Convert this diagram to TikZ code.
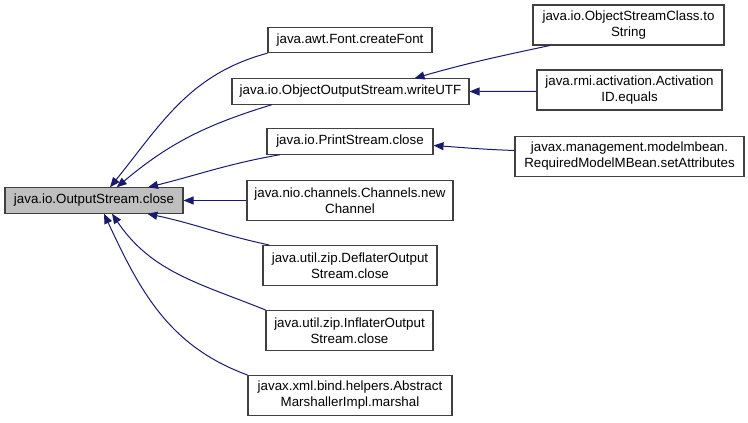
\documentclass[tikz,border=0pt]{standalone}
\usepackage{fontspec}
\setmainfont{Liberation Sans}
\usetikzlibrary{arrows.meta}
\definecolor{callBlue}{HTML}{191970}
\definecolor{callRoot}{HTML}{BFBFBF}
\definecolor{callBorder}{HTML}{404040}
\tikzset{
  call graph/.style={
    x=0.75pt, y=-0.75pt,
    >={Triangle[length=7.5pt,width=6pt]},
    every node/.style={font=\fontsize{10}{12}\selectfont, text=black}
  },
  call box/.style={draw=callBorder, line width=0.8pt, fill=white,
    align=center, inner sep=0pt, minimum height=19pt},
  call box tall/.style={call box, minimum height=30pt},
  call root/.style={call box, fill=callRoot},
  call edge/.style={draw=callBlue, line width=0.75pt, ->}
}

\begin{document}
\begin{tikzpicture}[call graph]
    \useasboundingbox (0,0) rectangle (748,423);
    % callee
    \node[call root, minimum width=133.5pt] (root) at (94,200.5)
      {java.io.OutputStream.close};
    % direct callers
    \node[call box, minimum width=123pt] (font) at (350,40)
      {java.awt.Font.createFont};
    \node[call box, minimum width=177.75pt] (wutf) at (350.5,91.5)
      {java.io.ObjectOutputStream.writeUTF};
    \node[call box, minimum width=124.5pt] (pclose) at (350,141.5)
      {java.io.PrintStream.close};
    \node[call box tall, minimum width=154.5pt] (chan) at (350,200.5)
      {java.nio.channels.Channels.new\\Channel};
    \node[call box tall, minimum width=130.5pt] (defl) at (350,265.5)
      {java.util.zip.DeflaterOutput\\Stream.close};
    \node[call box tall, minimum width=125.25pt] (infl) at (349.5,330.5)
      {java.util.zip.InflaterOutput\\Stream.close};
    \node[call box tall, minimum width=153pt] (abst) at (350,395.5)
      {javax.xml.bind.helpers.Abstract\\MarshallerImpl.marshal};
    % second level
    \node[call box tall, minimum width=143.25pt] (oscs) at (628.5,25)
      {java.io.ObjectStreamClass.to\\String};
    \node[call box tall, minimum width=138.75pt] (actid) at (629.5,90)
      {java.rmi.activation.Activation\\ID.equals};
    \node[call box tall, minimum width=171.75pt] (rmmb) at (629.5,156.5)
      {javax.management.modelmbean.\\RequiredModelMBean.setAttributes};

    \draw[call edge] (font.south west) to[out=195,in=51] ([xshift=12pt]root.north);
    \draw[call edge] ([xshift=-59pt]wutf.south) to[out=197,in=40] ([xshift=17pt]root.north);
    \draw[call edge] ([xshift=-52.5pt]pclose.south) to[out=190,in=14] ([xshift=40.5pt]root.north);
    \draw[call edge] (chan.west) -- (root.east);
    \draw[call edge] ([xshift=5pt]defl.north west) to[out=168,in=-12] ([xshift=40pt]root.south);
    \draw[call edge] (infl.north west) to[out=158,in=-56] ([xshift=13.5pt]root.south);
    \draw[call edge] (abst.north west) to[out=160,in=-65] ([xshift=7.5pt]root.south);

    \draw[call edge] ([xshift=13pt]oscs.south west) to[out=192,in=16] ([xshift=48pt]wutf.north);
    \draw[call edge] ([yshift=-1pt]actid.west) -- ([yshift=0pt]wutf.east);
    \draw[call edge] ([yshift=4.5pt]rmmb.west) to[out=178,in=-4] ([yshift=-3pt]pclose.east);
\end{tikzpicture}
\end{document}
